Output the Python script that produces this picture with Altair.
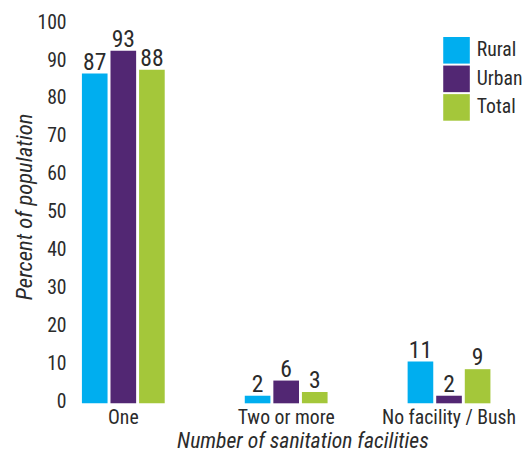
import altair as alt
import pandas as pd

categories = ["One", "Two or more", "No facility / Bush"]
series = ["Rural", "Urban", "Total"]
rural = [87, 2, 11]
urban = [93, 6, 2]
total = [88, 3, 9]
colors = ["#00AEEF", "#522773", "#A4C73A"]
y_ticks = [0, 10, 20, 30, 40, 50, 60, 70, 80, 90, 100]

rows = []
for i, c in enumerate(categories):
    for s, vals in zip(series, [rural, urban, total]):
        rows.append({"category": c, "series": s, "value": vals[i]})
df = pd.DataFrame(rows)

FONT = "'Roboto Condensed', 'DejaVu Sans Condensed', 'Liberation Sans Narrow', 'Arial Narrow', Roboto, sans-serif"
TXT = "#2b2b2b"

x = alt.X("category:N", sort=categories,
          scale=alt.Scale(paddingInner=0.474, paddingOuter=0.04),
          axis=alt.Axis(title="Number of sanitation facilities", labelAngle=0,
                        labelFontSize=20, labelFont=FONT, labelColor=TXT,
                        labelPadding=5, labelBaseline="top",
                        titleFont=FONT, titleFontSize=22, titleFontStyle="italic",
                        titleFontWeight="normal", titleColor=TXT,
                        titleX=232, titleY=45, titleBaseline="alphabetic"))
xo = alt.XOffset("series:N", sort=series,
                 scale=alt.Scale(paddingInner=0.103, paddingOuter=0.05))
y = alt.Y("value:Q", scale=alt.Scale(domain=[0, 100]),
          axis=alt.Axis(title="Percent of population", values=y_ticks,
                        tickCount=11, labelOverlap=False, labelOffset=-2,
                        labelFontSize=20, labelFont=FONT, labelColor=TXT,
                        labelPadding=8,
                        titleFont=FONT, titleFontSize=23, titleFontStyle="italic",
                        titleFontWeight="normal", titleColor=TXT,
                        titleX=-50, titleY=185, titleBaseline="middle",
                        titleAngle=-90))

color = alt.Color("series:N", sort=series,
                  scale=alt.Scale(domain=series, range=colors),
                  legend=alt.Legend(title=None, orient="none", legendX=375, legendY=13,
                                    symbolType="square", symbolSize=729,
                                    symbolStrokeWidth=0, symbolOpacity=1,
                                    labelFont=FONT, labelFontSize=20, labelColor=TXT,
                                    labelOffset=7, rowPadding=2, padding=0))

bars = alt.Chart(df).mark_bar(opacity=1).encode(x=x, xOffset=xo, y=y, color=color)
labels = alt.Chart(df).mark_text(font=FONT, fontSize=24, color=TXT, dy=-4,
                                 baseline="alphabetic").encode(
    x=x, xOffset=xo, y=y, text="value:Q")

chart = (bars + labels).properties(
    width=431, height=385,
    autosize=alt.AutoSizeParams(type="none"),
    padding={"left": 67, "top": 13, "right": 24, "bottom": 47},
).configure_view(stroke=None).configure_axis(
    domain=False, ticks=False, grid=False, labelOverlap=False)

chart.save("out.html", embed_options={"renderer": "svg", "actions": False})
